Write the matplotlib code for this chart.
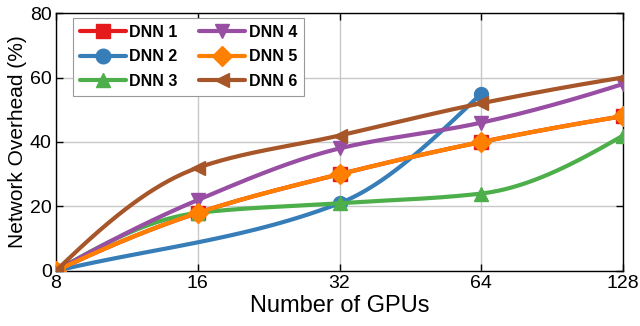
import numpy as np
import matplotlib
matplotlib.use("Agg")
import matplotlib.pyplot as plt

plt.rcParams['font.family'] = ['Liberation Sans', 'DejaVu Sans']

gpus = [8, 16, 32, 64, 128]
dnn1 = [0, 18, 30, 40, 48]
dnn2 = [0, np.nan, 21, 55, np.nan]
dnn3 = [0, 18, 21, 24, 42]
dnn4 = [0, 22, 38, 46, 58]
dnn5 = [0, 18, 30, 40, 48]
dnn6 = [0, 32, 42, 52, 60]
labels = ['DNN 1', 'DNN 2', 'DNN 3', 'DNN 4', 'DNN 5', 'DNN 6']
colors = ['#e41a1c', '#377eb8', '#4daf4a', '#984ea3', '#ff7f00', '#a65628']
markers = ['s', 'o', '^', 'v', 'D', '<']
series = [dnn1, dnn2, dnn3, dnn4, dnn5, dnn6]


def smooth(xs, ys, n=60):
    """Monotone cubic Hermite curve through the given points (drawing only)."""
    x = np.asarray(xs, float)
    y = np.asarray(ys, float)
    h = np.diff(x)
    d = np.diff(y) / h
    m = np.zeros_like(y)
    for k in range(1, len(x) - 1):
        if d[k - 1] * d[k] > 0:
            w1 = 2 * h[k] + h[k - 1]
            w2 = h[k] + 2 * h[k - 1]
            m[k] = (w1 + w2) / (w1 / d[k - 1] + w2 / d[k])
    if len(x) > 2:
        e0 = ((2 * h[0] + h[1]) * d[0] - h[0] * d[1]) / (h[0] + h[1])
        m[0] = e0 if e0 * d[0] > 0 else d[0]
        e1 = ((2 * h[-1] + h[-2]) * d[-1] - h[-1] * d[-2]) / (h[-1] + h[-2])
        m[-1] = e1 if e1 * d[-1] > 0 else d[-1]
    else:
        m[:] = d[0]
    px, py = [], []
    for k in range(len(x) - 1):
        t = np.linspace(0, 1, n)
        h00 = 2 * t**3 - 3 * t**2 + 1
        h10 = t**3 - 2 * t**2 + t
        h01 = -2 * t**3 + 3 * t**2
        h11 = t**3 - t**2
        seg = h00 * y[k] + h10 * h[k] * m[k] + h01 * y[k + 1] + h11 * h[k] * m[k + 1]
        px.append(x[k] + t * h[k])
        py.append(seg)
    return np.concatenate(px), np.concatenate(py)


fig = plt.figure(figsize=(6.4, 3.26), dpi=100)
ax = fig.add_axes([0.0875, 0.169, 0.886, 0.791])

handles = []
for i, (vals, lab, c, mk) in enumerate(zip(series, labels, colors, markers)):
    g = np.array(gpus, float)
    v = np.array(vals, float)
    ok = ~np.isnan(v)
    lx, ly = smooth(np.log2(g[ok]), v[ok])
    ax.plot(2 ** lx, ly, color=c, lw=3.0, zorder=3 + i, solid_capstyle='round')
    ax.plot(g[ok], v[ok], linestyle='none', marker=mk, ms=10, color=c,
            mec=c, mew=1.0, zorder=3 + i)
    handles.append(plt.Line2D([], [], color=c, lw=3.0, marker=mk, ms=10.5,
                              solid_capstyle='round'))

ax.set_xscale('log', base=2)
ax.set_xlim(8, 128)
ax.set_ylim(0, 80)
ax.set_xticks(gpus)
ax.set_xticklabels([str(g) for g in gpus])
ax.minorticks_off()
ax.set_yticks([0, 20, 40, 60, 80])
ax.tick_params(direction='in', top=True, right=True, labelsize=14, length=5, width=1, pad=3)
ax.grid(True, color='#c8c8c8', lw=1.0)
ax.set_axisbelow(True)
for s in ax.spines.values():
    s.set_linewidth(1.0)
ax.set_xlabel('Number of GPUs', fontsize=17, labelpad=2)
ax.set_ylabel('Network Overhead (%)', fontsize=15, labelpad=2)

leg = ax.legend(handles, labels, ncol=2, loc='upper left', bbox_to_anchor=(0.030, 0.981),
                borderaxespad=0, prop={'weight': 'bold', 'size': 11.5}, handlelength=2.9,
                columnspacing=1.35, labelspacing=0.6, handletextpad=0.2,
                borderpad=0.42, fancybox=False, framealpha=1, edgecolor='#999999')
leg.get_frame().set_linewidth(0.8)

fig.savefig('out.png', dpi=100)
